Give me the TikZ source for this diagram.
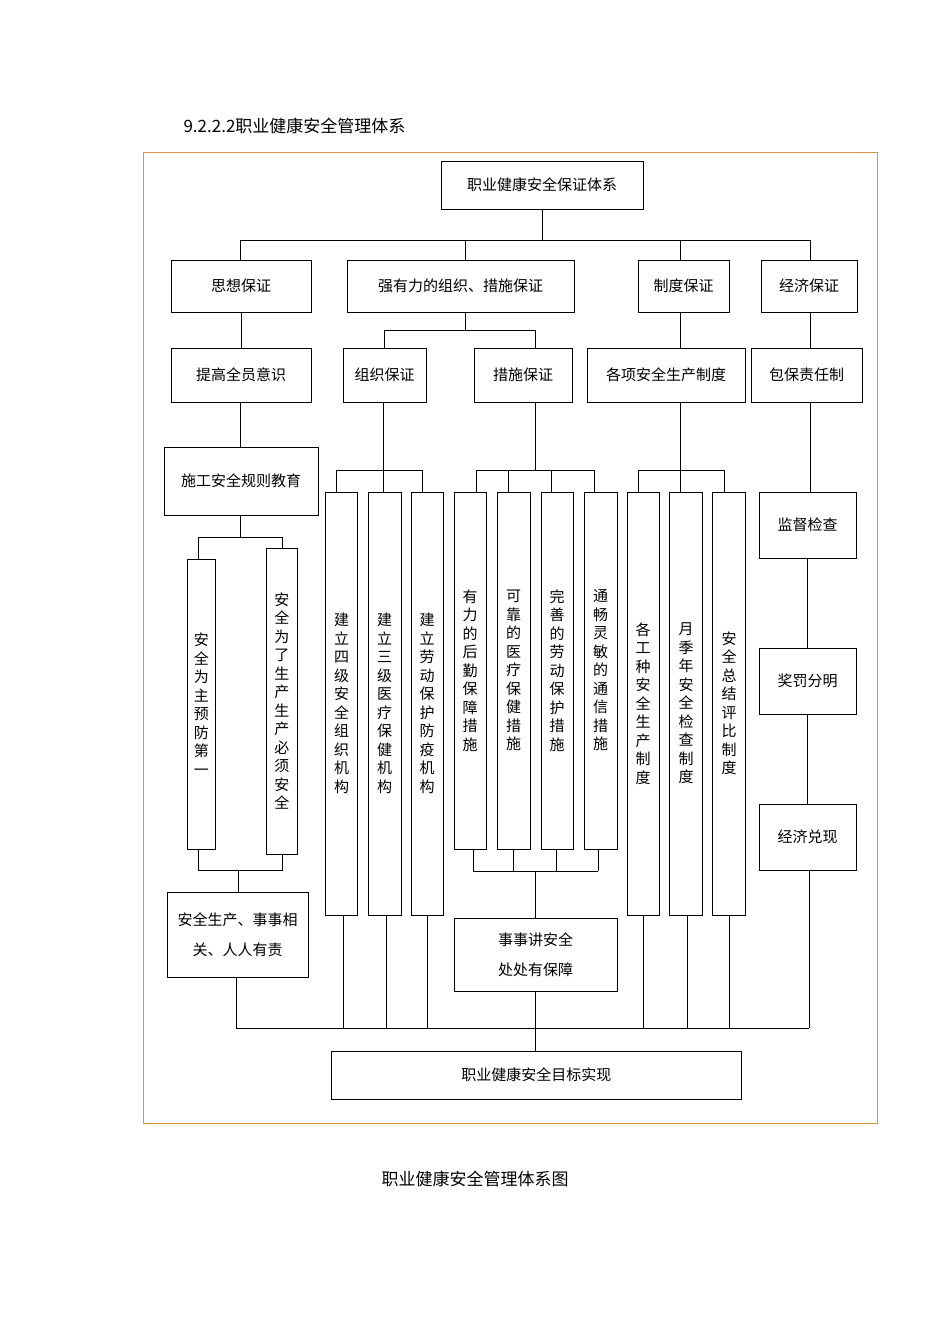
\documentclass[tikz,border=0pt]{standalone}
\usepackage{fontspec}
\setmainfont{Noto Sans CJK SC}
\XeTeXlinebreaklocale "zh"
\XeTeXlinebreakskip=0pt plus 1pt
\definecolor{frameor}{RGB}{222,150,70}
\begin{document}
\begin{tikzpicture}[x=1pt,y=-1pt,
  box/.style={draw, line width=0.8pt, inner sep=0pt, font=\fontsize{15}{18}\selectfont, align=center},
  vbox/.style={box, text width=15pt, font=\fontsize{15}{18.5}\selectfont},
  ln/.style={line width=0.8pt}]
\newcommand\bx[7][box]{\node[#1, minimum width={(#5-#3)*1pt}, minimum height={(#6-#4)*1pt}] (#2) at ({(#3+#5)/2},{(#4+#6)/2}) {#7};}
\useasboundingbox (0,0) rectangle (950,1344);
\draw[frameor, line width=1pt] (143,152) rectangle (877,1123);
\node[anchor=west, font=\fontsize{17}{20}\selectfont] (title) at (180,126) {9.2.2.2职业健康安全管理体系};
\node[font=\fontsize{17}{20}\selectfont] (cap) at (475,1179) {职业健康安全管理体系图};

\bx{top}{441}{161}{643}{209}{职业健康安全保证体系}
\bx{sx}{171}{260}{311}{312}{思想保证}
\bx{qy}{347}{260}{574}{312}{强有力的组织、措施保证}
\bx{zd}{638}{260}{729}{312}{制度保证}
\bx{jj}{761}{260}{857}{312}{经济保证}
\bx{tg}{171}{348}{311}{402}{提高全员意识}
\bx{zz}{343}{348}{426}{402}{组织保证}
\bx{cs}{474}{348}{572}{402}{措施保证}
\bx{gx}{587}{348}{745}{402}{各项安全生产制度}
\bx{bb}{751}{348}{862}{402}{包保责任制}
\bx{sg}{164}{447}{318}{515}{施工安全规则教育}
\bx[vbox]{a1}{187}{559}{215.5}{849}{安全为主预防第一}
\bx[vbox]{a2}{266.5}{548}{297}{854}{安全为了生产生产必须安全}
\bx[vbox]{z1}{325.5}{492}{357.5}{915}{建立四级安全组织机构}
\bx[vbox]{z2}{368}{492}{401}{915}{建立三级医疗保健机构}
\bx[vbox]{z3}{411}{492}{443}{915}{建立劳动保护防疫机构}
\bx[vbox]{c1}{454}{492}{486}{849}{有力的后勤保障措施}
\bx[vbox]{c2}{497}{492}{530}{849}{可靠的医疗保健措施}
\bx[vbox]{c3}{541}{492}{573}{849}{完善的劳动保护措施}
\bx[vbox]{c4}{584}{492}{617}{849}{通畅灵敏的通信措施}
\bx[vbox]{g1}{627}{492}{659}{915}{各工种安全生产制度}
\bx[vbox]{g2}{669.5}{492}{702.5}{915}{月季年安全检查制度}
\bx[vbox]{g3}{712.5}{492}{745.5}{915}{安全总结评比制度}
\bx{jd}{759}{492}{856}{558}{监督检查}
\bx{jf}{759}{648}{856}{714}{奖罚分明}
\bx{jx}{759}{804}{856}{870}{经济兑现}
\node[box, minimum width=141pt, minimum height=85pt, font=\fontsize{15}{30}\selectfont] (ar) at (237.5,934.5) {安全生产、事事相\\关、人人有责};
\node[box, minimum width=163pt, minimum height=73pt, font=\fontsize{15}{30}\selectfont] (ss) at (535.5,954.5) {事事讲安全\\处处有保障};
\bx{mb}{331.6}{1051}{741}{1099}{职业健康安全目标实现}

% level 1 bus
\draw[ln] (top.south) -- (542,240);
\draw[ln] (240,240) -- (810,240);
\coordinate (d1) at (240,240); \coordinate (d2) at (465,240);
\coordinate (d3) at (680,240); \coordinate (d4) at (810,240);
\draw[ln] (d1) -- (d1 |- sx.north);
\draw[ln] (d2) -- (d2 |- qy.north);
\draw[ln] (d3) -- (d3 |- zd.north);
\draw[ln] (d4) -- (d4 |- jj.north);
% level 2 -> 3
\draw[ln] (sx.south) -- (sx.south |- tg.north);
\coordinate (e0) at (465,312); \coordinate (e1) at (465,330);
\draw[ln] (e0) -- (e1);
\coordinate (e2) at (384,330); \coordinate (e3) at (535,330);
\draw[ln] (e2) -- (e3);
\draw[ln] (e2) -- (e2 |- zz.north);
\draw[ln] (e3) -- (e3 |- cs.north);
\coordinate (f1) at (680,312); \draw[ln] (f1) -- (f1 |- gx.north);
\coordinate (f2) at (810,312); \draw[ln] (f2) -- (f2 |- bb.north);
% level 3 -> lower
\coordinate (t1) at (240,402); \draw[ln] (t1) -- (t1 |- sg.north);
% zz group
\coordinate (z0) at (383,402); \coordinate (zb) at (383,470);
\draw[ln] (z0) -- (zb);
\draw[ln] (336,470) -- (422,470);
\foreach \x/\n in {336/z1,383/z2,422/z3}{\coordinate (q) at (\x,470); \draw[ln] (q) -- (q |- \n.north);}
% cs group
\coordinate (c0) at (535.5,402); \draw[ln] (c0) -- (535.5,470);
\draw[ln] (476,470) -- (594,470);
\foreach \x/\n in {476/c1,508/c2,551/c3,594/c4}{\coordinate (q) at (\x,470); \draw[ln] (q) -- (q |- \n.north);}
% gx group
\coordinate (g0) at (680,402); \draw[ln] (g0) -- (680,470);
\draw[ln] (638,470) -- (724,470);
\foreach \x/\n in {638/g1,680/g2,724/g3}{\coordinate (q) at (\x,470); \draw[ln] (q) -- (q |- \n.north);}
% bb chain
\coordinate (b0) at (810,402); \draw[ln] (b0) -- (b0 |- jd.north);
\draw[ln] (jd.south) -- (jf.north);
\draw[ln] (jf.south) -- (jx.north);
% sg fork
\coordinate (s0) at (240,515); \draw[ln] (s0) -- (240,537);
\draw[ln] (198,537) -- (282.5,537);
\coordinate (s1) at (198,537); \draw[ln] (s1) -- (s1 |- a1.north);
\coordinate (s2) at (282.5,537); \draw[ln] (s2) -- (s2 |- a2.north);
\coordinate (s3) at (198,870); \draw[ln] (s3) -- (s3 |- a1.south);
\coordinate (s4) at (282.5,870); \draw[ln] (s4) -- (s4 |- a2.south);
\draw[ln] (s3) -- (s4);
\coordinate (s5) at (238.5,870); \draw[ln] (s5) -- (s5 |- ar.north);
% cs merge
\foreach \x/\n in {473/c1,513/c2,556/c3,598/c4}{\coordinate (q) at (\x,871); \draw[ln] (q) -- (q |- \n.south);}
\draw[ln] (473,871) -- (598,871);
\coordinate (m0) at (535.5,871); \draw[ln] (m0) -- (m0 |- ss.north);
\draw[ln] (ss.south) -- (ss.south |- mb.north);
% bottom bus
\draw[ln] (236,1028) -- (809,1028);
\coordinate (r0) at (236,1028); \draw[ln] (r0) -- (r0 |- ar.south);
\foreach \x/\n in {343/z1,386/z2,427/z3,643.5/g1,687/g2,729.5/g3}{\coordinate (q) at (\x,1028); \draw[ln] (q) -- (q |- \n.south);}
\coordinate (r1) at (809,1028); \draw[ln] (r1) -- (r1 |- jx.south);
\end{tikzpicture}
\end{document}
